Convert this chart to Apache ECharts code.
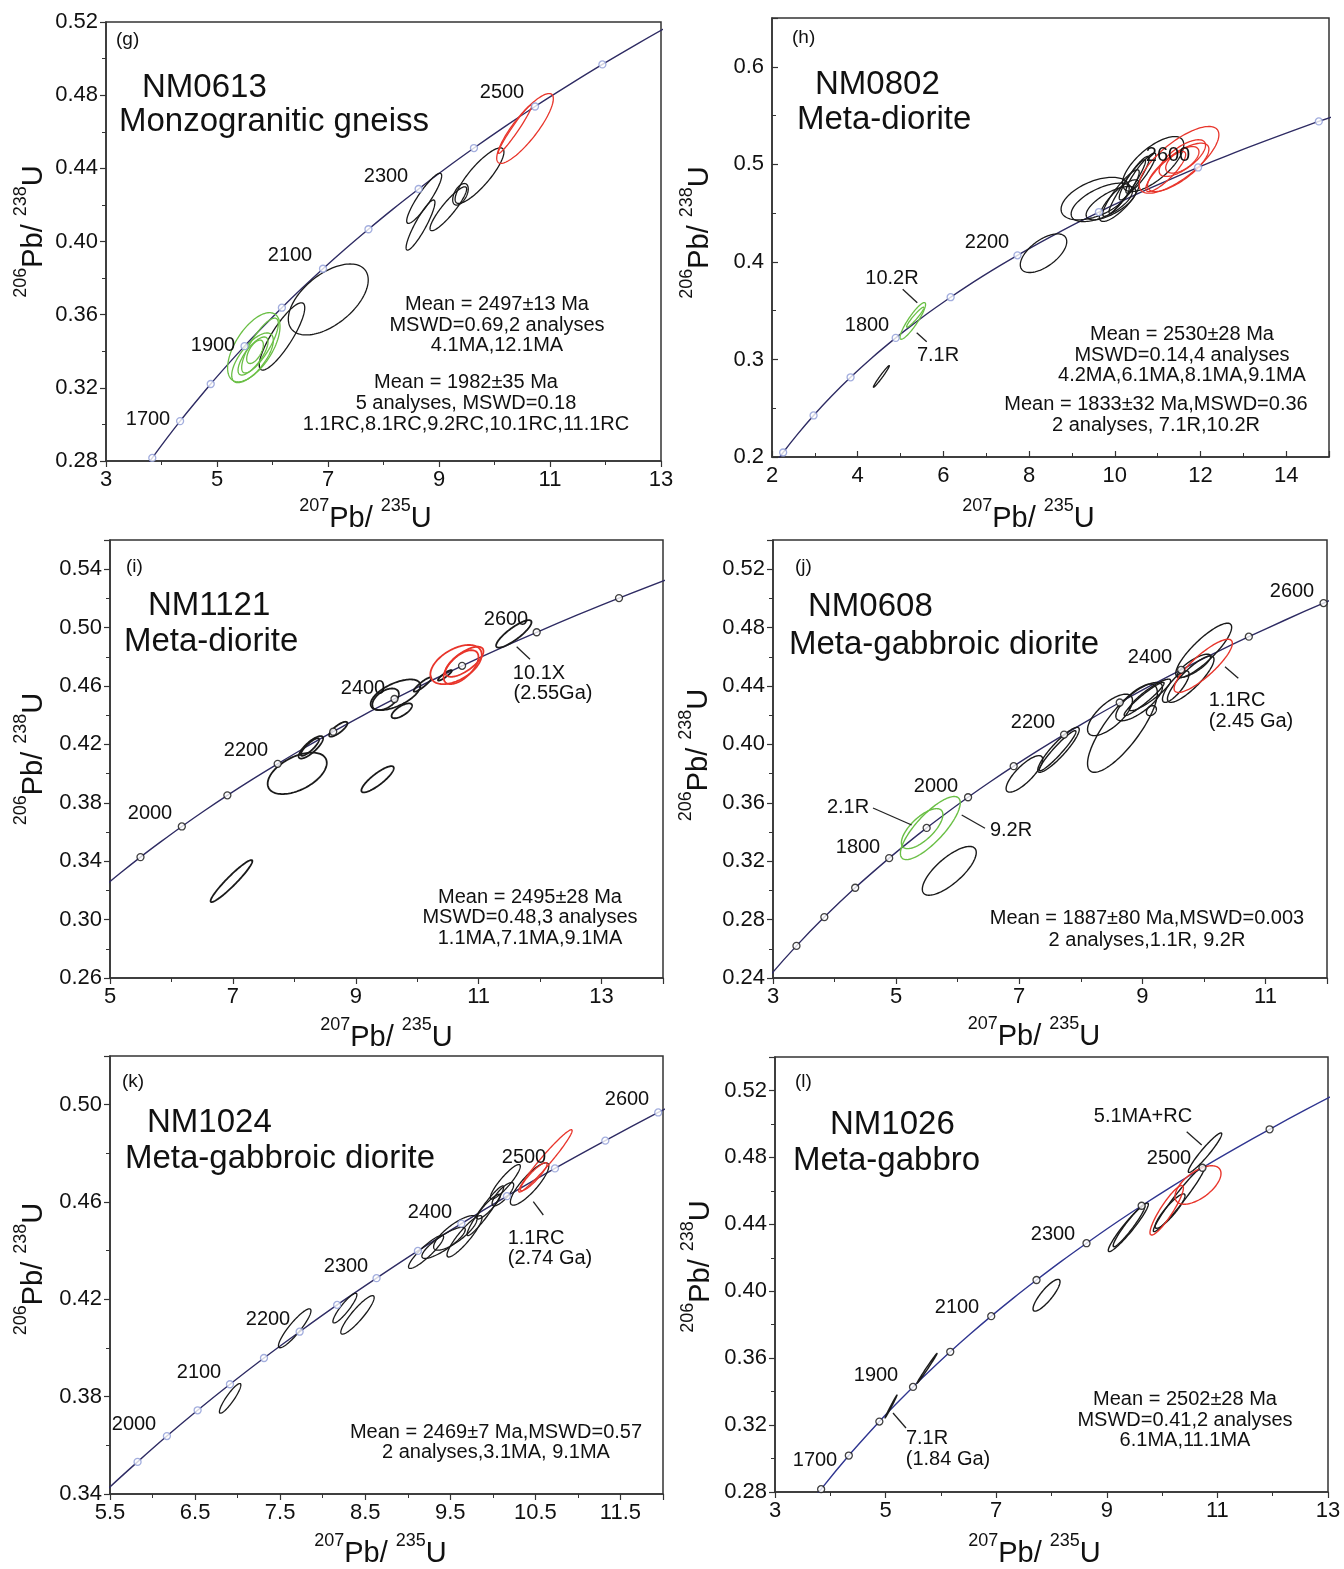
<!DOCTYPE html>
<html><head><meta charset="utf-8">
<script src="https://cdn.jsdelivr.net/npm/echarts@6/dist/echarts.min.js"></script>
<style>html,body{margin:0;padding:0;background:#fff}#c{width:1344px;height:1569px}</style>
</head><body><div id="c"></div>
<script>
// Concordia reference points: age (Ma), 207Pb/235U, 206Pb/238U
const concAge = [1100,1200,1300,1400,1500,1600,1700,1800,1850,1900,1950,2000,2050,2100,2150,2200,2250,2300,2350,2400,2450,2500,2550,2600,2650,2700,2800,2900];
const conc207 = [1.955,2.260,2.598,2.970,3.381,3.834,4.335,4.887,5.184,5.496,5.824,6.169,6.530,6.910,7.310,7.729,8.170,8.633,9.119,9.630,10.166,10.730,11.322,11.944,12.598,13.284,14.762,16.393];
const conc206 = [0.1861,0.2046,0.2234,0.2426,0.2620,0.2817,0.3018,0.3221,0.3324,0.3428,0.3532,0.3638,0.3744,0.3851,0.3959,0.4067,0.4177,0.4287,0.4399,0.4511,0.4624,0.4738,0.4852,0.4968,0.5085,0.5202,0.5440,0.5681];

// Age markers shown on each concordia
const gMarks = [1600,1700,1800,1900,2000,2100,2200,2300,2400,2500,2600];
const hMarks = [1200,1400,1600,1800,2000,2200,2400,2600,2800];
const iMarks = [1900,2000,2100,2200,2300,2400,2500,2600,2700];
const jMarks = [1500,1600,1700,1800,1900,2000,2100,2200,2300,2400,2500,2600];
const kMarks = [1950,2000,2050,2100,2150,2200,2250,2300,2350,2400,2450,2500,2550,2600];
const lMarks = [1600,1700,1800,1900,2000,2100,2200,2300,2400,2500,2600];

// Error ellipses: [207/235 centre, 206/238 centre, half-width 207/235, half-height 206/238, correlation]
const gGreen = [[5.663,0.3422,0.472,0.0189,0.6],[5.640,0.3364,0.375,0.0136,0.7],[5.649,0.3374,0.270,0.0104,0.75],[5.685,0.3397,0.150,0.0064,0.6],[5.775,0.3431,0.330,0.0150,0.8]];
const gBlack = [[7.005,0.3683,0.720,0.0194,0.55],[6.171,0.3481,0.410,0.0184,0.85],[9.730,0.4360,0.440,0.0152,0.85],[9.387,0.4258,0.140,0.0059,0.5],[8.733,0.4236,0.315,0.0137,0.9],[8.667,0.4090,0.260,0.0137,0.9],[9.168,0.4179,0.330,0.0120,0.9]];
const gRed = [[10.550,0.4618,0.510,0.0191,0.85],[10.369,0.4614,0.300,0.0132,0.97]];

const hGreen = [[5.286,0.3395,0.298,0.0188,0.9],[5.344,0.3433,0.202,0.0103,0.95]];
const hBlack = [[4.553,0.2826,0.186,0.0111,0.98],[8.337,0.4089,0.542,0.0198,0.6],[9.542,0.4649,0.795,0.0218,0.5],[9.698,0.4610,0.716,0.0197,0.6],[9.912,0.4602,0.581,0.0171,0.7],[10.105,0.4628,0.465,0.0213,0.8],[10.895,0.5003,0.716,0.0282,0.7],[10.291,0.4772,0.426,0.0274,0.95],[10.453,0.4858,0.349,0.0223,0.9],[10.609,0.4910,0.349,0.0205,0.9],[10.144,0.4705,0.426,0.0239,0.9]];
const hRed = [[11.500,0.5046,0.930,0.0342,0.75],[11.481,0.4969,0.716,0.0248,0.75],[11.577,0.5046,0.388,0.0136,0.6],[11.577,0.5064,0.542,0.0188,0.7],[11.190,0.4926,0.465,0.0205,0.85]];

const iBlack = [[8.047,0.4002,0.481,0.0142,0.5],[8.269,0.4180,0.199,0.0077,0.8],[8.254,0.4182,0.149,0.0060,0.85],[8.715,0.4304,0.149,0.0051,0.8],[9.355,0.3961,0.264,0.0090,0.85],[9.647,0.4540,0.405,0.0105,0.6],[9.485,0.4509,0.216,0.0074,0.5],[9.749,0.4430,0.167,0.0051,0.7],[10.086,0.4610,0.143,0.0049,0.9],[10.451,0.4673,0.113,0.0036,0.9],[11.572,0.4957,0.288,0.0094,0.85],[6.977,0.3264,0.340,0.0144,0.95]];
const iRed = [[10.632,0.4747,0.418,0.0134,0.5],[10.713,0.4729,0.284,0.0116,0.6],[10.767,0.4766,0.311,0.0103,0.7]];

const jGreen = [[5.556,0.3427,0.486,0.0216,0.8],[5.423,0.3423,0.337,0.0137,0.7]];
const jBlack = [[5.864,0.3134,0.438,0.0167,0.75],[7.638,0.3963,0.337,0.0154,0.9],[7.624,0.3957,0.297,0.0137,0.95],[7.084,0.3798,0.297,0.0125,0.8],[8.677,0.4111,0.567,0.0302,0.8],[8.475,0.4202,0.365,0.0142,0.7],[8.948,0.4293,0.378,0.0131,0.75],[9.029,0.4311,0.324,0.0114,0.95],[9.123,0.4339,0.337,0.0108,0.9],[9.543,0.4396,0.216,0.0108,0.8],[9.786,0.4447,0.378,0.0159,0.85],[9.997,0.4644,0.454,0.0186,0.85],[9.840,0.4538,0.270,0.0080,0.8],[9.147,0.4231,0.081,0.0034,0.3]];
const jRed = [[9.989,0.4538,0.473,0.0182,0.85]];

const kBlack = [[6.912,0.3793,0.126,0.0061,0.9],[7.671,0.4081,0.191,0.0080,0.9],[8.261,0.4164,0.141,0.0061,0.9],[8.409,0.4136,0.196,0.0079,0.9],[10.432,0.4674,0.226,0.0087,0.85],[10.147,0.4683,0.176,0.0071,0.9],[10.118,0.4632,0.127,0.0048,0.8],[9.912,0.4564,0.215,0.0102,0.95],[9.951,0.4581,0.138,0.0051,0.9],[9.667,0.4459,0.206,0.0085,0.9],[9.559,0.4473,0.255,0.0071,0.8],[9.421,0.4432,0.255,0.0064,0.85],[9.215,0.4395,0.206,0.0068,0.9]];
const kRed = [[10.618,0.4769,0.314,0.0128,0.97],[10.480,0.4704,0.156,0.0058,0.9]];

const lBlack = [[10.776,0.4828,0.302,0.0118,0.95],[10.309,0.4553,0.467,0.0197,0.97],[10.143,0.4479,0.271,0.0103,0.9],[9.389,0.4382,0.362,0.0145,0.95],[9.401,0.4389,0.286,0.0123,0.95],[7.910,0.3976,0.244,0.0095,0.85],[5.749,0.3539,0.181,0.0089,0.995],[5.098,0.3311,0.108,0.0068,0.995]];
const lRed = [[10.649,0.4635,0.416,0.0115,0.6],[10.083,0.4484,0.302,0.0148,0.9]];

// Axis ranges / tick steps
const xRanges = [[3,13,2],[2,15,2],[5,14,2],[3,12,2],[5.5,12,1],[3,13,2]];
const yRanges = [[0.28,0.52,0.04],[0.2,0.65,0.1],[0.26,0.56,0.04],[0.24,0.54,0.04],[0.34,0.52,0.04],[0.28,0.54,0.04]];

const FONT = 'Liberation Sans, Arial, sans-serif';
const BLACK = '#1a1a1a', RED = '#e8352b', GREEN = '#6abf45';
const panels = [
  {grid:{left:106,top:22,width:555,height:439}, xd:0, yd:2, inside:false, marks:gMarks, mk:'#8c9ad6', curve:'#2e2b63', lw:1.3, ell:[[gBlack,BLACK],[gGreen,GREEN],[gRed,RED]], yGap:58, xGap:36, xShift:18, yShift:10},
  {grid:{left:772,top:18,width:557,height:439}, xd:0, yd:1, inside:true, marks:hMarks, mk:'#8c9ad6', curve:'#2e2b63', lw:1.3, ell:[[hBlack,BLACK],[hGreen,GREEN],[hRed,RED]], yGap:58, xGap:40, xShift:22, yShift:5},
  {grid:{left:110,top:540,width:553,height:438}, xd:0, yd:2, inside:false, marks:iMarks, mk:'#111', curve:'#2e2b63', lw:1.8, ell:[[iBlack,BLACK],[iRed,RED]], yGap:62, xGap:38, xShift:0, yShift:0},
  {grid:{left:773,top:540,width:554,height:438}, xd:0, yd:2, inside:false, marks:jMarks, mk:'#111', curve:'#2e2b63', lw:1.4, ell:[[jBlack,BLACK],[jGreen,GREEN],[jRed,RED]], yGap:60, xGap:37, xShift:16, yShift:4},
  {grid:{left:110,top:1056,width:553,height:441}, xd:1, yd:2, inside:false, marks:kMarks, mk:'#8c9ad6', curve:'#2e2b63', lw:1.3, ell:[[kBlack,BLACK],[kRed,RED]], yGap:62, xGap:38, xShift:6, yShift:6},
  {grid:{left:775,top:1057,width:553,height:438}, xd:0, yd:2, inside:false, marks:lMarks, mk:'#111', curve:'#2f3590', lw:1.4, ell:[[lBlack,BLACK],[lRed,RED]], yGap:60, xGap:40, xShift:17, yShift:8}
];

const rich = {
  b:{fontSize:29, fontFamily:FONT, color:'#111', lineHeight:36, verticalAlign:'bottom'},
  s:{fontSize:18, fontFamily:FONT, color:'#111', lineHeight:21, verticalAlign:'top'}
};

function aligned(r){ const n=(r[1]-r[0])/r[2]; return Math.abs(n-Math.round(n))<1e-6; }

function ellRender(color, lw){
  return function(params, api){
    const cx=api.value(0), cy=api.value(1), sx=api.value(2), sy=api.value(3), r=api.value(4);
    const q=Math.sqrt(Math.max(0,1-r*r));
    const pts=[];
    for(let k=0;k<120;k++){
      const t=k/120*2*Math.PI;
      pts.push(api.coord([cx+sx*Math.cos(t), cy+sy*(r*Math.cos(t)+q*Math.sin(t))]));
    }
    return {type:'polygon', shape:{points:pts}, style:{fill:'transparent', stroke:color, lineWidth:lw}, silent:true};
  };
}

const grids=[], xAxes=[], yAxes=[], series=[];
const concPts = concAge.map((a,i)=>[conc207[i],conc206[i]]);
panels.forEach((p,i)=>{
  grids.push(Object.assign({show:true, borderColor:'#333', borderWidth:1.5, backgroundColor:'transparent'}, p.grid));
  const xr=xRanges[i], yr=yRanges[i];
  const common = {
    axisLine:{show:true, onZero:false, lineStyle:{color:'#333', width:1.5}},
    axisTick:{show:true, inside:p.inside, length:6, lineStyle:{color:'#333', width:1.2}},
    minorTick:{show:true, splitNumber:2, length:4, lineStyle:{color:'#333', width:1}},
    splitLine:{show:false}, minorSplitLine:{show:false}
  };
  xAxes.push(Object.assign({}, common, {
    type:'value', gridIndex:i, min:xr[0], max:xr[1], interval:xr[2],
    axisLabel:{fontSize:22, fontFamily:FONT, color:'#111', margin:8, showMaxLabel:aligned(xr), formatter:v=>v.toFixed(p.xd)},
    name:'{s|207}{b|Pb/ }{s|235}{b|U}', nameLocation:'middle', nameGap:p.xGap,
    nameTextStyle:{rich:rich, padding:[0, 2*p.xShift, 0, 0]}
  }));
  yAxes.push(Object.assign({}, common, {
    type:'value', gridIndex:i, min:yr[0], max:yr[1], interval:yr[2],
    axisLabel:{fontSize:22, fontFamily:FONT, color:'#111', margin:8, showMaxLabel:aligned(yr), formatter:v=>v.toFixed(p.yd)},
    name:'{s|206}{b|Pb/ }{s|238}{b|U}', nameLocation:'middle', nameGap:p.yGap, nameRotate:90,
    nameTextStyle:{rich:rich, padding:[0, 0, 0, 2*p.yShift]}
  }));
  series.push({type:'line', xAxisIndex:i, yAxisIndex:i, data:concPts, showSymbol:false, smooth:0.3, clip:true,
    lineStyle:{color:p.curve, width:1.4}, silent:true, z:2});
  p.ell.forEach(([arr,col])=>{
    series.push({type:'custom', coordinateSystem:'cartesian2d', xAxisIndex:i, yAxisIndex:i, data:arr,
      encode:{x:0,y:1}, renderItem:ellRender(col,p.lw), silent:true, z:3});
  });
  series.push({type:'scatter', xAxisIndex:i, yAxisIndex:i, clip:true, silent:true, z:4,
    data:p.marks.map(a=>{const k=concAge.indexOf(a); return [conc207[k],conc206[k]];}),
    symbol:'circle', symbolSize:7, itemStyle:{color:'#fff', borderColor:p.mk, borderWidth:1.3}});
});

// Text annotations (pixel placement)
const NS = 33, AS = 20, MS = 20, PS = 19;
const notes = [
 ['(g)',116,40,PS,'left'],['NM0613',142,88,NS,'left'],['Monzogranitic gneiss',119,122,NS,'left'],
 ['2500',502,92,AS],['2300',386,176,AS],['2100',290,255,AS],['1900',213,345,AS],['1700',148,419,AS],
 ['Mean = 2497±13 Ma',497,304,MS],['MSWD=0.69,2 analyses',497,325,MS],['4.1MA,12.1MA',497,345,MS],
 ['Mean = 1982±35 Ma',466,382,MS],['5 analyses, MSWD=0.18',466,403,MS],['1.1RC,8.1RC,9.2RC,10.1RC,11.1RC',466,424,MS],

 ['(h)',792,38,PS,'left'],['NM0802',815,85,NS,'left'],['Meta-diorite',797,120,NS,'left'],
 ['2600',1168,155,AS],['2200',987,242,AS],['1800',867,325,AS],['10.2R',892,278,AS],['7.1R',938,355,AS],
 ['Mean = 2530±28 Ma',1182,334,MS],['MSWD=0.14,4 analyses',1182,355,MS],['4.2MA,6.1MA,8.1MA,9.1MA',1182,375,MS],
 ['Mean = 1833±32 Ma,MSWD=0.36',1156,404,MS],['2 analyses, 7.1R,10.2R',1156,425,MS],

 ['(i)',126,567,PS,'left'],['NM1121',148,606,NS,'left'],['Meta-diorite',124,642,NS,'left'],
 ['2600',506,619,AS],['2400',363,688,AS],['2200',246,750,AS],['2000',150,813,AS],['10.1X',539,673,AS],['(2.55Ga)',553,693,AS],
 ['Mean = 2495±28 Ma',530,897,MS],['MSWD=0.48,3 analyses',530,917,MS],['1.1MA,7.1MA,9.1MA',530,938,MS],

 ['(j)',795,567,PS,'left'],['NM0608',808,607,NS,'left'],['Meta-gabbroic diorite',789,645,NS,'left'],
 ['2600',1292,591,AS],['2400',1150,657,AS],['2200',1033,722,AS],['2000',936,786,AS],['1800',858,847,AS],
 ['2.1R',848,807,AS],['9.2R',1011,830,AS],['1.1RC',1237,700,AS],['(2.45 Ga)',1251,721,AS],
 ['Mean = 1887±80 Ma,MSWD=0.003',1147,918,MS],['2 analyses,1.1R, 9.2R',1147,940,MS],

 ['(k)',122,1082,PS,'left'],['NM1024',147,1123,NS,'left'],['Meta-gabbroic diorite',125,1159,NS,'left'],
 ['2600',627,1099,AS],['2500',524,1157,AS],['2400',430,1212,AS],['2300',346,1266,AS],['2200',268,1319,AS],['2100',199,1372,AS],['2000',134,1424,AS],
 ['1.1RC',536,1238,AS],['(2.74 Ga)',550,1258,AS],
 ['Mean = 2469±7 Ma,MSWD=0.57',496,1432,MS],['2 analyses,3.1MA, 9.1MA',496,1452,MS],

 ['(l)',795,1082,PS,'left'],['NM1026',830,1125,NS,'left'],['Meta-gabbro',793,1161,NS,'left'],
 ['5.1MA+RC',1143,1116,AS],['2500',1169,1158,AS],['2300',1053,1234,AS],['2100',957,1307,AS],['1900',876,1375,AS],['1700',815,1460,AS],
 ['7.1R',927,1438,AS],['(1.84 Ga)',948,1459,AS],
 ['Mean = 2502±28 Ma',1185,1399,MS],['MSWD=0.41,2 analyses',1185,1420,MS],['6.1MA,11.1MA',1185,1440,MS]
];
const leaders = [
 [902.7,289.3,917.3,302.7],[916.7,332.7,926.7,341.7],
 [516.7,646.7,530,659.3],
 [873,808,911.7,825],[961.7,815,985,828.3],[1225,666.7,1238.3,678.3],
 [533.3,1201.7,543.3,1215],
 [1186.7,1131.7,1201.7,1145],[893,1413,906,1428]
];
const graphic = notes.map(n=>({type:'text', x:n[1], y:n[2], silent:true, z:100,
  style:{text:n[0], fontSize:n[3], fontFamily:FONT, fill:'#111', align:n[4]||'center', verticalAlign:'middle'}}))
 .concat(leaders.map(l=>({type:'line', silent:true, z:100, shape:{x1:l[0],y1:l[1],x2:l[2],y2:l[3]}, style:{stroke:'#222', lineWidth:1.3}})));

const chart = echarts.init(document.getElementById('c'), null, {renderer:'canvas'});
chart.setOption({animation:false, backgroundColor:'#fff', grid:grids, xAxis:xAxes, yAxis:yAxes, series:series, graphic:graphic});
</script></body></html>
